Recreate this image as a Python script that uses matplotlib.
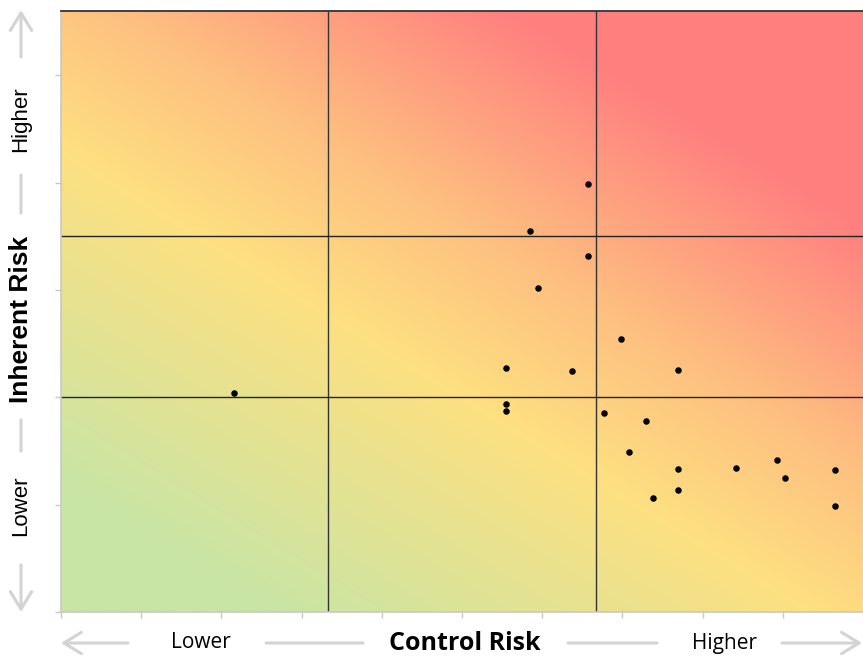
import numpy as np
import matplotlib
matplotlib.use('Agg')
import matplotlib.pyplot as plt
from matplotlib.colors import LinearSegmentedColormap

# control risk (x) vs inherent risk (y) per item
control = [3.24, 9.85, 8.77, 9.85, 8.93, 10.47, 8.32, 9.55, 11.54, 8.32, 8.32,
           10.16, 10.94, 10.62, 11.54, 12.62, 13.39, 13.55, 14.47, 11.08, 11.54, 14.47]
inherent = [10.20, 19.93, 17.75, 16.59, 15.11, 12.72, 11.38, 11.21, 11.29, 9.69, 9.36,
            9.29, 8.91, 7.47, 6.68, 6.71, 7.08, 6.24, 6.63, 5.30, 5.70, 4.94]

X_MAX, Y_MAX = 15, 28
X_SPLITS = [5, 10]
Y_SPLITS = [10, 17.5]

GREEN, YELLOW, ORANGE, RED = "#c9e5a5", "#fde081", "#fdbf80", "#ff7f7f"

fig = plt.figure(figsize=(8.63, 6.58), dpi=100)
ax = fig.add_axes([61 / 863, 46 / 658, 802 / 863, 601 / 658])

# diagonal background gradient: green (low/low) -> yellow -> red (high/high)
xf, yf = np.meshgrid(np.linspace(0, 1, 400), np.linspace(0, 1, 300))
s = np.clip((1.09 * xf + 1.33 * yf) / 2.05, 0, 1)
cmap = LinearSegmentedColormap.from_list(
    "risk", [(0, GREEN), (0.14, GREEN), (0.5, YELLOW), (0.69, ORANGE), (0.95, RED), (1.0, RED)])
ax.imshow(s, cmap=cmap, vmin=0, vmax=1, origin='lower', aspect='auto',
          extent=[0, X_MAX, 0, Y_MAX], zorder=0, interpolation='bilinear')

for xv in X_SPLITS:
    ax.axvline(xv, color='#333333', lw=1.0, zorder=1)
for yv in Y_SPLITS:
    ax.axhline(yv, color='#222222', lw=1.0, zorder=1)

ax.scatter(control, inherent, s=22, color='black', zorder=3, linewidths=0)

ax.set_xlim(0, X_MAX); ax.set_ylim(0, Y_MAX)
ax.set_xticks(np.arange(0, X_MAX + 0.01, 1.5))
ax.set_yticks(np.arange(0, Y_MAX, 5))
ax.tick_params(colors='#c8c8c8', labelbottom=False, labelleft=False, length=4, width=1)
for side in ('left', 'bottom'):
    ax.spines[side].set_color('#c8c8c8'); ax.spines[side].set_linewidth(1.2)
ax.spines['top'].set_color('#333333'); ax.spines['top'].set_linewidth(1.3)
ax.spines['right'].set_visible(False)

# axis captions with arrow rules, in figure pixels
W, H = 863, 658
def fx(px): return px / W
def fy(py): return 1 - py / H

grey = dict(color='#d3d3d3', lw=2.2)
def rule(p0, p1, head=False):
    style = '->,head_length=0.9,head_width=0.55' if head else '-'
    fig.add_artist(matplotlib.patches.FancyArrowPatch(
        (fx(p0[0]), fy(p0[1])), (fx(p1[0]), fy(p1[1])), transform=fig.transFigure,
        arrowstyle=style, mutation_scale=14, shrinkA=0, shrinkB=0, **grey))

yb = 643
rule((128, yb), (61, yb), head=True)
rule((266, yb), (363, yb))
rule((568, yb), (657, yb))
rule((782, yb), (862, yb), head=True)
fig.text(fx(201), fy(yb), "Lower", ha='center', va='center', fontsize=15, family='Open Sans')
fig.text(fx(465), fy(yb + 1), "Control Risk", ha='center', va='center', fontsize=18,
         family='Open Sans', fontweight='bold')
fig.text(fx(724), fy(yb), "Higher", ha='center', va='center', fontsize=15, family='Open Sans')

xl = 21
rule((xl, 57), (xl, 10), head=True)
rule((xl, 175), (xl, 213))
rule((xl, 420), (xl, 451))
rule((xl, 565), (xl, 612), head=True)
fig.text(fx(xl), fy(119), "Higher", ha='center', va='center', rotation=90, fontsize=16,
         family='Liberation Sans')
fig.text(fx(xl), fy(319), "Inherent Risk", ha='center', va='center', rotation=90, fontsize=19,
         family='Liberation Sans', fontweight='bold')
fig.text(fx(xl), fy(506), "Lower", ha='center', va='center', rotation=90, fontsize=16,
         family='Liberation Sans')

fig.savefig("out.png", dpi=100)
